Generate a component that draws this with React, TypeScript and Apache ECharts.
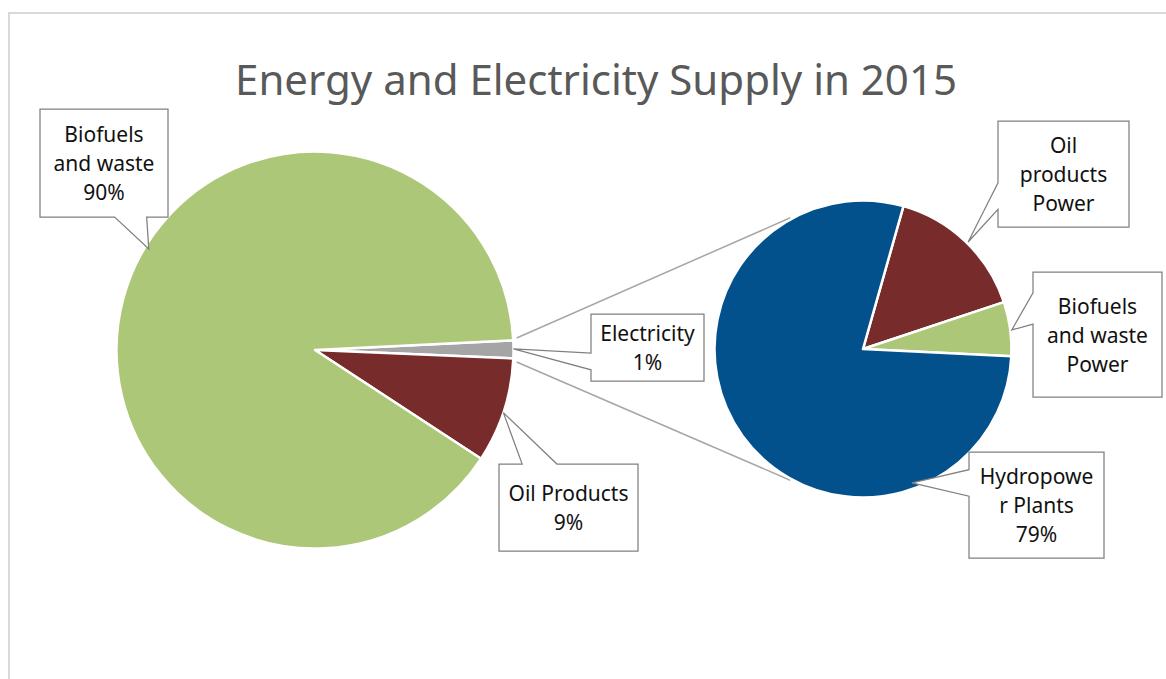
import React, { useEffect, useRef } from "react";
import * as echarts from "echarts";

// ---------- data ----------
const TITLE = "Energy and Electricity Supply in 2015";

const mainCategories = ["Electricity", "Oil Products", "Biofuels and waste"];
const mainLabelText = ["Electricity", "Oil Products", "Biofuels\nand waste"];
const mainValues = [1.45, 8.55, 90.0];
const mainColors = ["#A5A5A5", "#772B2B", "#ACC778"];
const mainShowPercent = [true, true, true];

const subCategories = ["Oil products Power", "Biofuels and waste Power", "Hydropower Plants"];
const subLabelText = ["Oil\nproducts\nPower", "Biofuels\nand waste\nPower", "Hydropowe\nr Plants"];
const subValues = [15.5, 5.9, 78.6];
const subColors = ["#772B2B", "#ACC778", "#02518C"];
const subShowPercent = [false, false, true];

// ---------- layout ----------
const MAIN = { cx: 315, cy: 350, r: 198.5, startAngle: 2.8 };
const SUB = { cx: 863, cy: 349, r: 148.5, startAngle: 74.2 };

// callout boxes [x, y, w, h], tip angle (deg, clockwise from 3 o'clock), tip radius factor
const mainCallouts = [
  { box: [591, 314, 113, 67], tipAngle: -0.3, tipR: 1.0 },
  { box: [499, 464, 139, 87], tipAngle: 18.4, tipR: 1.0 },
  { box: [40, 109, 128, 108], tipAngle: -148.7, tipR: 0.98 },
];
const subCallouts = [
  { box: [998, 121, 131, 106], tipAngle: -45.5, tipR: 1.01 },
  { box: [1033, 272, 129, 125], tipAngle: -7.3, tipR: 1.01 },
  { box: [969, 452, 135, 106], tipAngle: 69.9, tipR: 0.96 },
];

const CONNECT = { mainAngle: 3.4, mainR: 202, subAngle: 119, subR: 150 };

function calloutPoints(bx: number, by: number, bw: number, bh: number, tx: number, ty: number) {
  const l = bx, t = by, r = bx + bw, b = by + bh;
  const hc = bx + bw / 2, vc = by + bh / 2;
  const dx = tx - hc, dy = ty - vc;
  const vertical = Math.abs(dy) > Math.abs((dx * bh) / bw);
  const xg1 = dx > 0 ? 7 : 2, xg2 = dx > 0 ? 10 : 5;
  const yg1 = dy > 0 ? 7 : 2, yg2 = dy > 0 ? 10 : 5;
  const x1 = l + (bw * xg1) / 12, x2 = l + (bw * xg2) / 12;
  const y1 = t + (bh * yg1) / 12, y2 = t + (bh * yg2) / 12;
  const pts: number[][] = [[l, t]];
  if (vertical && dy < 0) pts.push([x1, t], [tx, ty], [x2, t]);
  pts.push([r, t]);
  if (!vertical && dx > 0) pts.push([r, y1], [tx, ty], [r, y2]);
  pts.push([r, b]);
  if (vertical && dy > 0) pts.push([x2, b], [tx, ty], [x1, b]);
  pts.push([l, b]);
  if (!vertical && dx <= 0) pts.push([l, y2], [tx, ty], [l, y1]);
  return pts;
}

const rad = (d: number) => (d * Math.PI) / 180;

function buildCallouts(
  pie: { cx: number; cy: number; r: number },
  callouts: { box: number[]; tipAngle: number; tipR: number }[],
  texts: string[],
  values: number[],
  showPct: boolean[]
) {
  const sum = values.reduce((a, b) => a + b, 0);
  return callouts.map((c, i) => {
    const [bx, by, bw, bh] = c.box;
    const tx = pie.cx + pie.r * c.tipR * Math.cos(rad(c.tipAngle));
    const ty = pie.cy + pie.r * c.tipR * Math.sin(rad(c.tipAngle));
    const pct = Math.round((values[i] / sum) * 100 + 1e-9);
    const text = texts[i] + (showPct[i] ? "\n" + pct + "%" : "");
    return {
      type: "group",
      z: 10,
      children: [
        {
          type: "polygon",
          z: 10,
          shape: { points: calloutPoints(bx, by, bw, bh, tx, ty) },
          style: { fill: "#FFFFFF", stroke: "#808080", lineWidth: 1.25 },
          silent: true,
        },
        {
          type: "text",
          z: 11,
          x: bx + bw / 2,
          y: by + bh / 2,
          style: {
            text,
            align: "center",
            verticalAlign: "middle",
            fontFamily: "Noto Sans",
            fontSize: 21,
            lineHeight: 29,
            fill: "#111111",
          },
          silent: true,
        },
      ],
    };
  });
}

export default function App() {
  const ref = useRef<HTMLDivElement>(null);
  useEffect(() => {
    if (!ref.current) return;
    const chart = echarts.init(ref.current, undefined, { renderer: "svg" });

    const c1 = CONNECT;
    const p1 = [MAIN.cx + c1.mainR * Math.cos(rad(-c1.mainAngle)), MAIN.cy + c1.mainR * Math.sin(rad(-c1.mainAngle))];
    const p2 = [MAIN.cx + c1.mainR * Math.cos(rad(c1.mainAngle)), MAIN.cy + c1.mainR * Math.sin(rad(c1.mainAngle))];
    const q1 = [SUB.cx + c1.subR * Math.cos(rad(-c1.subAngle)), SUB.cy + c1.subR * Math.sin(rad(-c1.subAngle))];
    const q2 = [SUB.cx + c1.subR * Math.cos(rad(c1.subAngle)), SUB.cy + c1.subR * Math.sin(rad(c1.subAngle))];

    const pieCommon = {
      type: "pie",
      clockwise: true,
      silent: true,
      animation: false,
      label: { show: false },
      labelLine: { show: false },
      emphasis: { disabled: true },
      itemStyle: { borderColor: "#FFFFFF", borderWidth: 2.5 },
    };

    const option: any = {
      animation: false,
      backgroundColor: "#FFFFFF",
      title: {
        text: TITLE,
        left: 596,
        top: 57,
        padding: 0,
        textAlign: "center",
        textStyle: {
          fontFamily: "Noto Sans",
          fontSize: 42,
          fontWeight: "normal",
          color: "#595959",
        },
      },
      series: [
        {
          ...pieCommon,
          name: "Energy supply",
          center: [MAIN.cx, MAIN.cy],
          radius: MAIN.r,
          startAngle: MAIN.startAngle,
          data: mainCategories.map((n, i) => ({
            name: n,
            value: mainValues[i],
            itemStyle: { color: mainColors[i] },
          })),
        },
        {
          ...pieCommon,
          name: "Electricity supply",
          center: [SUB.cx, SUB.cy],
          radius: SUB.r,
          startAngle: SUB.startAngle,
          data: subCategories.map((n, i) => ({
            name: n,
            value: subValues[i],
            itemStyle: { color: subColors[i] },
          })),
        },
      ],
      graphic: [
        {
          type: "rect",
          z: 0,
          silent: true,
          shape: { x: 9, y: 13, width: 1180, height: 720 },
          style: { fill: "none", stroke: "#D9D9D9", lineWidth: 2 },
        },
        {
          type: "line",
          z: 1,
          silent: true,
          shape: { x1: p1[0], y1: p1[1], x2: q1[0], y2: q1[1] },
          style: { stroke: "#A6A6A6", lineWidth: 1.5 },
        },
        {
          type: "line",
          z: 1,
          silent: true,
          shape: { x1: p2[0], y1: p2[1], x2: q2[0], y2: q2[1] },
          style: { stroke: "#A6A6A6", lineWidth: 1.5 },
        },
        ...buildCallouts(MAIN, mainCallouts, mainLabelText, mainValues, mainShowPercent),
        ...buildCallouts(SUB, subCallouts, subLabelText, subValues, subShowPercent),
      ],
    };
    chart.setOption(option);
    return () => chart.dispose();
  }, []);

  return (
    <div
      ref={ref}
      style={{ position: "absolute", left: 0, top: 0, width: 1166, height: 679 }}
    />
  );
}
